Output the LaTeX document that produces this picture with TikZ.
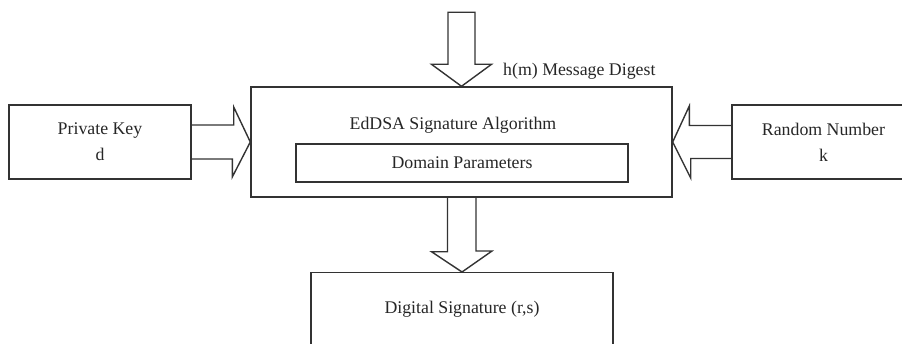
\documentclass[tikz,border=0pt]{standalone}
\usepackage{fontspec}
\setmainfont{Liberation Serif}
\usepackage{tikz}

\tikzset{
  box/.style={draw=black!80, line width=1.4pt, inner sep=0pt, align=center, text=black!85},
  fatline/.style={draw=black!80, line width=1.4pt, line join=miter},
  lbl/.style={text=black!85, inner sep=0pt}
}

\begin{document}
\begin{tikzpicture}[x=1pt,y=1pt,font=\fontsize{17.8}{26}\selectfont]
\useasboundingbox (0,0) rectangle (902,343);
\clip (0,0) rectangle (902,343);

% boxes
\node[box, minimum width=182, minimum height=74] (pk) at (100,201) {Private Key\\d};
\node[box, minimum width=421, minimum height=110] (main) at (461.5,201) {};
\node[lbl] (alg) at (453,218) {EdDSA Signature Algorithm};
\node[box, minimum width=332, minimum height=38] (dom) at (462,180) {Domain Parameters};
\node[box, minimum width=183, minimum height=74] (rnd) at (823.5,201) {Random Number\\k};
\node[box, minimum width=302, minimum height=74, anchor=north] (sig) at (462,71) {Digital Signature (r,s)};

% message digest input
\coordinate (digin) at ([yshift=74]main.north);
\node[lbl, anchor=west] (dig) at (503,272) {h(m) Message Digest};

% fat arrows
\draw[fatline] ([xshift=-13.5]digin) -- ++(27,0) -- ++(0,-52) -- ++(16.5,0) -- (main.north)
  -- ++(-30,22) -- ++(16.5,0) -- cycle;
\draw[fatline] ([yshift=17]pk.east) -- ++(42,0) -- ++(0,18) -- (main.west)
  -- ++(-18,-35) -- ++(0,18) -- ++(-42,0);
\draw[fatline] ([yshift=16.5]rnd.west) -- ++(-42,0) -- ++(0,19.5) -- (main.east)
  -- ++(18,-36) -- ++(0,19.5) -- ++(42,0);
\draw[fatline] ([xshift=-14]main.south) -- ++(0,-54) -- ++(-16,0) -- (sig.north)
  -- ++(30,21) -- ++(-16,0) -- ++(0,54);
\end{tikzpicture}
\end{document}
